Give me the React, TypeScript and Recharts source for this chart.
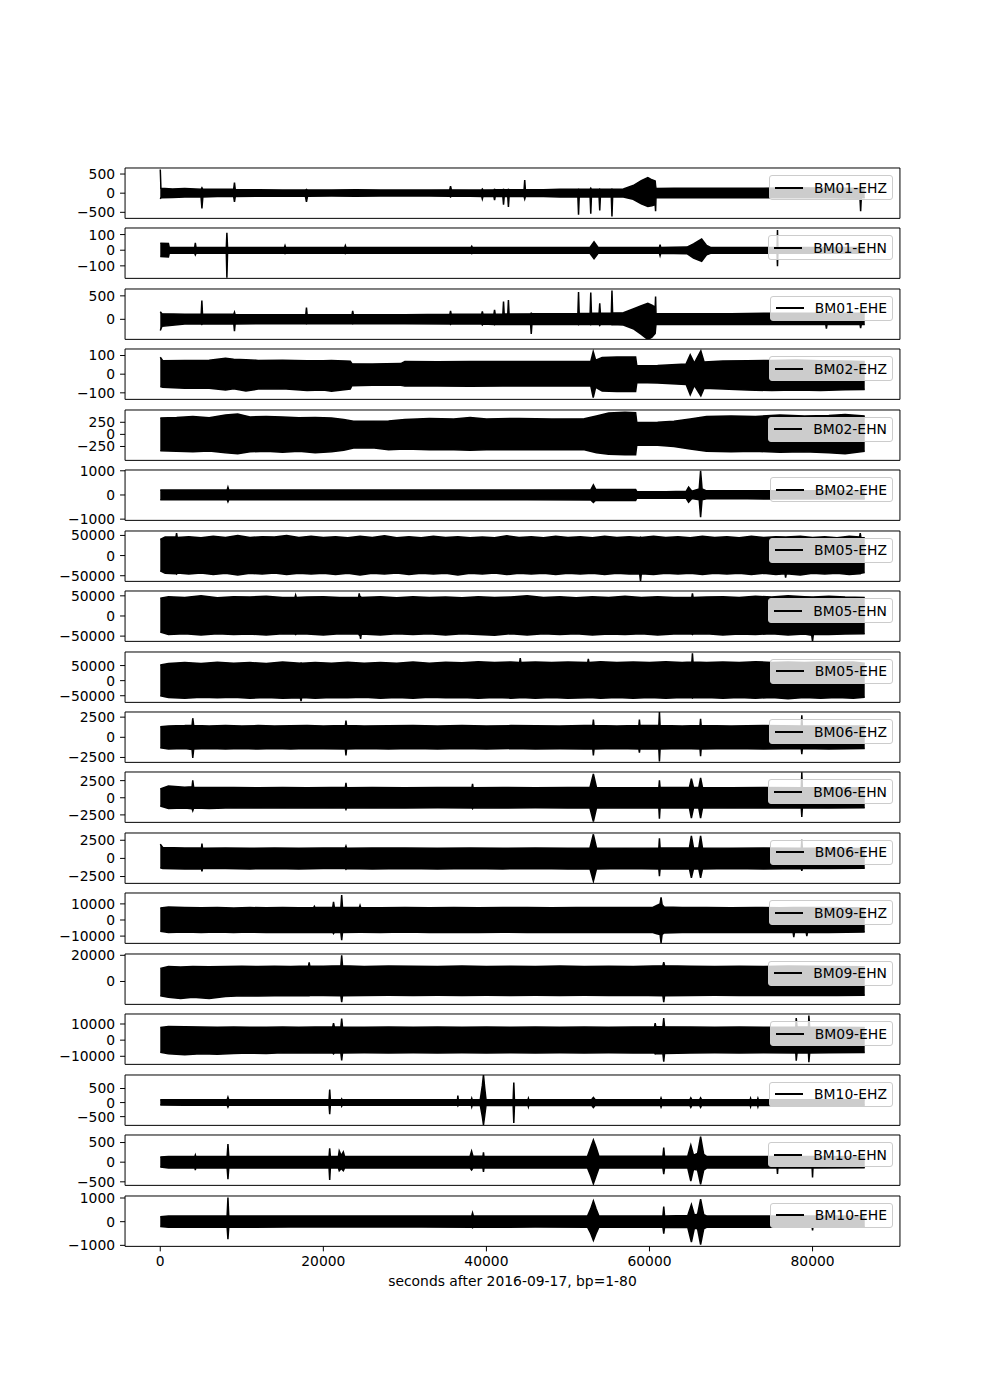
import { Area, ComposedChart, Legend, XAxis, YAxis } from "recharts";

const FONT = "DejaVu Sans";
const FS = 13.9;

// x axis: seconds after midnight, one day of data
const X_DOMAIN = [-4320, 90720];
const X_TICKS = [0, 20000, 40000, 60000, 80000];
const X_LABEL = "seconds after 2016-09-17, bp=1-80";

const CHANNELS = [
  "BM01-EHZ", "BM01-EHN", "BM01-EHE",
  "BM02-EHZ", "BM02-EHN", "BM02-EHE",
  "BM05-EHZ", "BM05-EHN", "BM05-EHE",
  "BM06-EHZ", "BM06-EHN", "BM06-EHE",
  "BM09-EHZ", "BM09-EHN", "BM09-EHE",
  "BM10-EHZ", "BM10-EHN", "BM10-EHE",
];

const Y_LIMITS = [
  [-658, 658], [-180, 142], [-427, 646],
  [-135, 135], [-537, 504], [-1050, 1033],
  [-64000, 61000], [-63000, 62000], [-72000, 95000],
  [-3110, 3140], [-3590, 3760], [-3440, 3500],
  [-14500, 16750], [-17500, 21000], [-15000, 16200],
  [-810, 980], [-590, 692], [-1043, 1085],
];

const Y_TICKS = [
  [-500, 0, 500], [-100, 0, 100], [0, 500],
  [-100, 0, 100], [-250, 0, 250], [-1000, 0, 1000],
  [-50000, 0, 50000], [-50000, 0, 50000], [-50000, 0, 50000],
  [-2500, 0, 2500], [-2500, 0, 2500], [-2500, 0, 2500],
  [-10000, 0, 10000], [0, 20000], [-10000, 0, 10000],
  [-500, 0, 500], [-500, 0, 500], [-1000, 0, 1000],
];

// envelopes: [time s, min, max]
const BM01_EHZ = [
  [0, -150, 620], [80, -120, 130], [1500, -110, 110], [3000, -100, 120], [5000, -100, 100],
  [5110, -400, 140], [5220, -100, 100], [7000, -90, 100], [9000, -90, 100], [9100, -230, 280],
  [9200, -90, 90], [12000, -80, 90], [15000, -80, 85], [17800, -80, 80], [17930, -230, 100],
  [18060, -80, 80], [21000, -75, 80], [24000, -80, 90], [27000, -75, 80], [30000, -75, 85],
  [33000, -75, 80], [35500, -80, 90], [35600, -100, 180], [35700, -80, 90], [38000, -80, 85],
  [39420, -85, 85], [39500, -150, 110], [39580, -85, 85], [40920, -90, 90], [41000, -180, 100],
  [41080, -90, 90], [42020, -90, 90], [42100, -300, 100], [42180, -90, 90], [42620, -90, 90],
  [42700, -360, 100], [42780, -90, 90], [44620, -90, 95], [44700, -150, 340], [44780, -90, 90],
  [47000, -90, 90], [49000, -100, 100], [51220, -100, 105], [51300, -560, 110], [51380, -100, 100],
  [52720, -100, 105], [52800, -540, 130], [52880, -100, 100], [53820, -100, 100], [53900, -450, 110],
  [53980, -100, 100], [55320, -100, 100], [55400, -610, 110], [55480, -100, 100], [56800, -100, 110],
  [58000, -160, 200], [59000, -280, 330], [59800, -350, 410], [60300, -330, 350], [60700, -300, 320],
  [60750, -470, 200], [60800, -110, 120], [63000, -120, 130], [66000, -120, 130], [70000, -120, 130],
  [74000, -120, 130], [78000, -120, 140], [82000, -120, 130], [85820, -130, 130], [85900, -470, 130],
  [85980, -120, 130], [86400, -120, 130],
];

const BM01_EHN = [
  [0, -40, 45], [1000, -43, 43], [1100, -20, 18], [4220, -20, 18], [4300, -30, 47],
  [4380, -20, 18], [8100, -20, 18], [8170, -176, 112], [8250, -20, 18], [15220, -20, 18],
  [15300, -22, 30], [15380, -20, 18], [22620, -20, 18], [22700, -22, 30], [22780, -20, 18],
  [38120, -20, 18], [38200, -22, 25], [38280, -20, 18], [52700, -20, 18], [53200, -54, 54],
  [53700, -20, 18], [61220, -20, 18], [61300, -35, 35], [61380, -20, 18], [64600, -22, 20],
  [65400, -50, 40], [66400, -71, 71], [67000, -30, 30], [67500, -20, 18], [75650, -20, 18],
  [75700, -103, 129], [75750, -20, 18], [86400, -20, 18],
];

const BM01_EHE = [
  [0, -240, 160], [200, -150, 120], [3000, -100, 110], [5020, -100, 110], [5100, -110, 400],
  [5180, -100, 110], [9020, -100, 110], [9100, -254, 150], [9180, -100, 100], [13000, -95, 100],
  [17850, -95, 100], [17930, -100, 250], [18010, -95, 100], [23520, -95, 100], [23600, -100, 180],
  [23680, -95, 100], [30000, -95, 100], [35520, -100, 110], [35600, -110, 180], [35680, -100, 110],
  [38000, -100, 110], [39420, -100, 110], [39500, -120, 170], [39580, -100, 110], [40920, -110, 110],
  [41000, -120, 200], [41080, -110, 110], [42020, -110, 115], [42100, -110, 377], [42180, -110, 115],
  [42620, -110, 115], [42700, -110, 413], [42780, -110, 115], [45420, -110, 120], [45500, -312, 130],
  [45580, -110, 120], [51220, -110, 125], [51300, -120, 580], [51380, -110, 125], [52720, -110, 130],
  [52800, -120, 573], [52880, -110, 130], [53820, -110, 130], [53900, -130, 340], [53980, -110, 130],
  [55320, -110, 130], [55400, -120, 616], [55480, -110, 135], [56800, -120, 140], [58000, -200, 220],
  [59000, -320, 290], [59800, -430, 340], [60300, -380, 300], [60700, -300, 260], [60750, -200, 486],
  [60800, -110, 120], [65000, -110, 120], [70000, -110, 120], [75000, -110, 130], [81620, -110, 130],
  [81700, -200, 130], [81780, -110, 130], [85820, -110, 130], [85900, -190, 130], [85980, -110, 130],
  [86400, -110, 130],
];

const BM02_EHZ = [
  [0, -66, 91], [300, -70, 72], [3000, -75, 73], [6000, -76, 75], [8000, -85, 85],
  [9000, -78, 80], [10500, -90, 78], [12000, -80, 74], [15000, -78, 75], [18000, -88, 72],
  [20000, -85, 72], [21000, -92, 74], [23300, -80, 70], [23500, -62, 56], [26000, -60, 55],
  [29500, -60, 57], [30000, -64, 68], [34000, -63, 67], [38000, -65, 68], [42000, -63, 68],
  [46000, -63, 68], [50000, -63, 68], [52800, -63, 68], [53100, -125, 121], [53400, -70, 75],
  [54200, -90, 90], [56000, -93, 92], [58300, -93, 92], [58450, -45, 45], [61000, -47, 46],
  [64500, -55, 55], [65000, -110, 104], [65500, -60, 60], [66300, -116, 125], [66700, -75, 65],
  [69000, -80, 70], [72000, -85, 72], [75000, -88, 74], [78000, -85, 76], [81000, -88, 72],
  [84000, -84, 70], [86400, -82, 68],
];

const BM02_EHN = [
  [0, -340, 340], [2000, -350, 350], [4000, -360, 370], [6000, -345, 345], [8000, -380, 400],
  [9500, -400, 420], [11000, -360, 360], [13000, -350, 370], [15000, -370, 360], [17000, -350, 345],
  [19000, -380, 350], [21000, -360, 340], [22500, -330, 310], [23700, -280, 270], [26000, -275, 270],
  [28000, -320, 275], [30000, -300, 310], [33000, -320, 330], [36000, -320, 320], [38000, -330, 350],
  [40000, -320, 320], [44000, -320, 330], [48000, -320, 320], [52000, -320, 325], [53500, -380, 380],
  [55000, -410, 440], [57000, -420, 455], [58300, -420, 450], [58450, -220, 245], [61000, -225, 250],
  [63000, -250, 270], [65000, -300, 320], [67000, -350, 370], [70000, -360, 380], [73000, -350, 370],
  [76000, -370, 400], [79000, -360, 380], [82000, -380, 390], [84000, -400, 410], [86400, -350, 380],
];

const BM02_EHE = [
  [0, -200, 210], [4000, -200, 210], [8200, -200, 210], [8300, -284, 324], [8400, -200, 210],
  [15000, -200, 210], [25000, -200, 210], [35000, -200, 210], [45000, -200, 210], [52800, -205, 215],
  [53120, -310, 420], [53400, -220, 230], [56000, -230, 230], [58300, -230, 230], [58450, -130, 135],
  [62000, -135, 135], [64500, -140, 150], [64800, -300, 324], [65200, -150, 160], [66100, -200, 250],
  [66270, -918, 1000], [66450, -200, 250], [67000, -160, 170], [72000, -160, 170], [78000, -170, 175],
  [86400, -170, 175],
];

const BM05_EHZ = [
  [0, -38000, 40000], [600, -44000, 46000], [1920, -45000, 46000], [2000, -46000, 56000],
  [2080, -43000, 45000], [3500, -46000, 47000], [5000, -43000, 44000], [6500, -47000, 48000],
  [8000, -44000, 45000], [9500, -48000, 50000], [11000, -44000, 45000], [12500, -46000, 47000],
  [14000, -43000, 46000], [15500, -47000, 50000], [17000, -44000, 45000], [18500, -46000, 48000],
  [20000, -44000, 45000], [21500, -47000, 47000], [23000, -44000, 44000], [24500, -48000, 48000],
  [26000, -44000, 45000], [27500, -46000, 49000], [29000, -43000, 44000], [30500, -47000, 47000],
  [32000, -44000, 44000], [33500, -46000, 48000], [35000, -44000, 45000], [36500, -48000, 47000],
  [38000, -44000, 44000], [39500, -46000, 46000], [41000, -43000, 44000], [42500, -47000, 49000],
  [44000, -44000, 45000], [45500, -46000, 47000], [47000, -44000, 44000], [48500, -47000, 48000],
  [50000, -44000, 45000], [51500, -46000, 47000], [53000, -44000, 44000], [54500, -47000, 48000],
  [56000, -44000, 45000], [57500, -46000, 47000], [58800, -45000, 45000], [58900, -64000, 46000],
  [59000, -45000, 45000], [60500, -47000, 48000], [62000, -44000, 45000], [63500, -46000, 47000],
  [65000, -44000, 44000], [66500, -47000, 48000], [68000, -44000, 45000], [69500, -46000, 47000],
  [71000, -44000, 44000], [72500, -47000, 48000], [74000, -44000, 45000], [75500, -47000, 47000],
  [76620, -45000, 46000], [76700, -55000, 45000], [76780, -45000, 46000], [78500, -48000, 48000],
  [80000, -44000, 45000], [81500, -46000, 47000], [83000, -44000, 44000], [84500, -47000, 48000],
  [85770, -45000, 46000], [85850, -45000, 56000], [85930, -44000, 45000], [86400, -42000, 44000],
];

const BM05_EHN = [
  [0, -40000, 44000], [1000, -46000, 48000], [3000, -44000, 46000], [5000, -47000, 50000],
  [7000, -44000, 45000], [9000, -46000, 48000], [11000, -45000, 47000], [13000, -47000, 49000],
  [15000, -44000, 46000], [16520, -45000, 46000], [16600, -46000, 52000], [16680, -45000, 46000],
  [18000, -45000, 47000], [20000, -47000, 48000], [22000, -44000, 46000], [24320, -45000, 46000],
  [24400, -47000, 56000], [24480, -46000, 47000], [24570, -57000, 48000], [24650, -45000, 46000],
  [27000, -47000, 48000], [29000, -44000, 45000], [31000, -46000, 48000], [33000, -44000, 46000],
  [35000, -47000, 47000], [37000, -44000, 45000], [39000, -46000, 48000], [41000, -48000, 46000],
  [43000, -44000, 47000], [45000, -47000, 50000], [47000, -44000, 46000], [49000, -46000, 48000],
  [51000, -44000, 45000], [53000, -47000, 48000], [55000, -45000, 46000], [57000, -46000, 49000],
  [59000, -44000, 46000], [61000, -47000, 48000], [63000, -45000, 46000], [65190, -45000, 46000],
  [65270, -46000, 56000], [65350, -45000, 46000], [67000, -44000, 47000], [69000, -47000, 48000],
  [71000, -45000, 46000], [73000, -46000, 49000], [75000, -44000, 47000], [77000, -47000, 50000],
  [79000, -45000, 48000], [79900, -48000, 47000], [80000, -63000, 47000], [80100, -46000, 47000],
  [82000, -46000, 49000], [84000, -45000, 47000], [86400, -44000, 46000],
];

const BM05_EHE = [
  [0, -50000, 52000], [1000, -56000, 57000], [3000, -58000, 60000], [5000, -55000, 57000],
  [7000, -57000, 61000], [9000, -55000, 58000], [11000, -58000, 60000], [13000, -56000, 57000],
  [15000, -58000, 62000], [17184, -57000, 58000], [17264, -68000, 59000], [17344, -56000, 58000],
  [19000, -58000, 60000], [21000, -56000, 58000], [23000, -57000, 61000], [25000, -55000, 58000],
  [27000, -58000, 60000], [29000, -56000, 58000], [31000, -58000, 62000], [33000, -55000, 58000],
  [35000, -57000, 61000], [37000, -56000, 59000], [39000, -58000, 63000], [41000, -56000, 60000],
  [43000, -58000, 62000], [44070, -57000, 60000], [44150, -57000, 74700], [44230, -56000, 60000],
  [46000, -58000, 62000], [48000, -56000, 60000], [50000, -58000, 62000], [52420, -57000, 60000],
  [52500, -57000, 72500], [52580, -56000, 60000], [54000, -58000, 63000], [56000, -56000, 60000],
  [58000, -58000, 62000], [60000, -56000, 60000], [62000, -58000, 63000], [64000, -56000, 60000],
  [65200, -57000, 62000], [65270, -58000, 91000], [65340, -57000, 62000], [67000, -56000, 60000],
  [69000, -58000, 62000], [71000, -56000, 60000], [73000, -58000, 63000], [75000, -56000, 60000],
  [77000, -60000, 62000], [79000, -56000, 60000], [81000, -58000, 62000], [83000, -56000, 61000],
  [85000, -58000, 62000], [86400, -55000, 58000],
];

const BM06_EHZ = [
  [0, -1300, 1300], [1000, -1450, 1400], [3000, -1400, 1450], [3900, -1500, 1500], [3984, -2546, 2370],
  [4100, -1450, 1450], [6000, -1400, 1400], [8000, -1450, 1450], [10000, -1400, 1400], [12000, -1450, 1450],
  [14000, -1400, 1400], [16000, -1450, 1420], [18000, -1400, 1450], [20000, -1420, 1400], [22700, -1450, 1450],
  [22775, -2240, 2060], [22850, -1450, 1450], [25000, -1400, 1400], [28000, -1450, 1420], [31000, -1400, 1450],
  [34000, -1450, 1400], [37000, -1400, 1450], [40000, -1450, 1400], [43000, -1400, 1450], [46000, -1450, 1420],
  [49000, -1420, 1400], [52000, -1450, 1450], [53050, -1450, 1450], [53120, -2240, 2200], [53200, -1450, 1450],
  [56000, -1400, 1400], [58700, -1450, 1450], [58764, -1890, 2200], [58830, -1450, 1450], [61150, -1450, 1450],
  [61221, -2985, 3160], [61300, -1450, 1450], [64000, -1400, 1400], [66200, -1450, 1450], [66267, -2330, 2280],
  [66340, -1450, 1450], [70000, -1400, 1400], [74000, -1450, 1450], [78620, -1400, 1400], [78684, -2100, 2720],
  [78750, -1400, 1400], [82000, -1450, 1400], [86400, -1400, 1400],
];

const BM06_EHN = [
  [0, -1200, 1300], [1000, -1550, 1700], [3000, -1500, 1550], [3900, -1600, 1600], [3984, -1900, 2550],
  [4100, -1500, 1500], [6000, -1550, 1500], [9000, -1450, 1500], [12000, -1500, 1450], [15000, -1450, 1500],
  [18000, -1500, 1450], [21000, -1450, 1500], [22700, -1500, 1500], [22775, -1700, 2190], [22850, -1500, 1450],
  [26000, -1450, 1500], [30000, -1500, 1450], [34000, -1450, 1500], [38230, -1500, 1500], [38300, -1600, 2040],
  [38370, -1450, 1450], [42000, -1500, 1500], [46000, -1450, 1450], [50000, -1500, 1500], [52700, -1500, 1500],
  [53120, -3470, 3470], [53500, -1500, 1500], [57000, -1450, 1450], [61150, -1500, 1500], [61221, -3060, 2550],
  [61300, -1500, 1500], [64900, -1500, 1500], [65140, -2960, 2800], [65400, -1500, 1500], [66050, -1500, 1500],
  [66270, -2960, 2900], [66500, -1500, 1500], [70000, -1450, 1450], [74000, -1500, 1500], [78620, -1450, 1450],
  [78684, -2800, 3720], [78750, -1450, 1450], [82000, -1500, 1450], [86400, -1450, 1450],
];

const BM06_EHE = [
  [0, -1300, 1960], [300, -1400, 1500], [3000, -1450, 1450], [5050, -1450, 1450], [5113, -1800, 2050],
  [5180, -1400, 1400], [8000, -1400, 1450], [11000, -1450, 1400], [14000, -1400, 1450], [17000, -1450, 1400],
  [20000, -1400, 1450], [22695, -1400, 1450], [22775, -1500, 1700], [22855, -1400, 1400], [26000, -1450, 1450],
  [30000, -1400, 1450], [34000, -1450, 1400], [38000, -1400, 1450], [42000, -1450, 1400], [46000, -1400, 1450],
  [50000, -1450, 1400], [52700, -1450, 1450], [53120, -3140, 3320], [53500, -1450, 1450], [57000, -1400, 1400],
  [61150, -1450, 1450], [61221, -2450, 2775], [61300, -1450, 1450], [64900, -1450, 1450], [65140, -2680, 3090],
  [65400, -1450, 1450], [66050, -1450, 1450], [66270, -2680, 3090], [66500, -1450, 1450], [70000, -1400, 1400],
  [74000, -1450, 1450], [78620, -1400, 1400], [78684, -1700, 2550], [78750, -1400, 1400], [82000, -1400, 1400],
  [86400, -1350, 1350],
];

const BM09_EHZ = [
  [0, -7000, 7500], [1000, -7800, 8000], [3000, -7500, 7800], [5000, -7800, 7600], [7000, -7500, 7800],
  [9000, -7700, 7500], [11000, -7500, 7700], [13000, -7800, 7600], [15000, -7600, 7800], [17000, -7800, 7600],
  [18820, -7700, 7700], [18900, -7700, 8500], [18980, -7700, 7700], [21150, -7700, 7800], [21250, -8500, 11300],
  [21350, -7700, 7800], [22150, -7800, 7800], [22250, -12570, 15550], [22350, -7800, 7800], [24420, -7600, 7700],
  [24500, -7600, 9000], [24580, -7600, 7700], [27000, -7700, 7600], [30000, -7500, 7800], [33000, -7800, 7600],
  [36000, -7600, 7800], [39000, -7800, 7600], [42000, -7600, 7700], [45000, -7800, 7800], [48000, -7600, 7600],
  [51000, -7800, 7800], [54000, -7600, 7700], [57000, -7800, 7800], [60400, -7800, 7800], [60900, -8500, 9000],
  [61300, -9000, 10000], [61420, -14270, 14060], [61550, -9000, 9500], [61800, -8000, 8000], [64000, -7800, 7700],
  [67000, -7600, 7800], [70000, -7800, 7600], [73000, -7700, 7800], [76000, -7800, 7600], [77620, -7800, 7800],
  [77700, -10650, 7800], [77780, -7800, 7800], [79220, -7800, 7700], [79300, -10000, 7700], [79380, -7800, 7700],
  [82000, -7700, 7800], [86400, -7500, 7500],
];

const BM09_EHN = [
  [0, -11000, 10000], [1000, -12000, 11500], [2500, -13000, 11000], [4000, -12000, 11500], [6000, -13000, 11300],
  [8000, -11500, 11500], [10000, -11000, 11700], [12000, -11200, 11400], [14000, -11000, 11600], [16000, -10800, 11500],
  [18180, -11000, 11800], [18260, -11000, 14600], [18340, -10800, 11800], [20000, -10800, 11600], [22150, -11000, 12000],
  [22250, -15900, 20000], [22350, -11000, 12000], [25000, -10800, 11500], [28000, -10600, 11800], [31000, -10800, 11600],
  [34000, -10600, 11500], [37000, -10800, 11800], [40000, -10600, 11500], [43000, -10800, 11700], [46000, -10600, 11500],
  [49000, -10800, 11800], [52000, -10600, 11500], [55000, -10800, 11700], [58000, -10600, 11500], [61650, -11000, 12000],
  [61750, -15900, 14850], [61850, -11000, 12000], [65000, -10800, 11600], [68000, -10600, 11500], [71000, -10800, 11700],
  [74000, -10700, 11500], [77000, -10800, 11800], [80000, -10800, 11600], [83000, -10800, 11500], [86400, -10500, 11200],
];

const BM09_EHE = [
  [0, -7500, 7800], [1000, -8500, 8500], [3000, -9000, 8300], [5000, -8500, 8200], [7000, -8700, 8000],
  [9000, -8200, 8200], [11000, -8000, 8000], [13000, -8200, 8000], [15000, -7800, 8100], [17000, -8000, 8000],
  [19000, -7800, 8200], [21150, -7900, 8200], [21250, -8500, 10600], [21350, -7900, 8200], [22150, -8000, 8200],
  [22250, -12500, 13300], [22350, -8000, 8200], [25000, -7800, 8000], [28000, -7900, 8100], [31000, -7800, 8000],
  [34000, -7900, 8100], [37000, -7800, 8000], [40000, -7900, 8200], [43000, -7800, 8000], [46000, -7900, 8100],
  [49000, -7800, 8000], [52000, -7900, 8100], [55000, -7800, 8000], [58000, -7900, 8100], [60620, -8000, 8200],
  [60700, -8500, 10600], [60780, -8200, 8300], [61650, -8500, 8500], [61750, -13300, 13700], [61850, -8200, 8300],
  [65000, -7900, 8100], [68000, -7800, 8000], [71000, -7900, 8200], [74000, -7800, 8000], [77950, -7900, 8100],
  [78000, -12700, 13700], [78100, -7900, 8100], [79500, -7900, 8100], [79550, -13700, 15200], [79650, -7900, 8100],
  [82000, -7800, 8000], [86400, -7700, 7800],
];

const BM10_EHZ = [
  [0, -90, 100], [3000, -95, 100], [8200, -95, 100], [8300, -160, 190], [8400, -95, 100],
  [14000, -95, 100], [20700, -95, 100], [20780, -410, 460], [20860, -95, 100], [22200, -95, 100],
  [22250, -130, 130], [22300, -95, 100], [30000, -95, 100], [36450, -95, 100], [36500, -120, 250],
  [36550, -95, 100], [38150, -95, 100], [38200, -150, 150], [38250, -95, 100], [39250, -100, 110],
  [39500, -500, 600], [39640, -790, 990], [39800, -450, 500], [39950, -100, 110], [43280, -100, 100],
  [43360, -725, 712], [43440, -100, 100], [45100, -95, 100], [45150, -150, 150], [45200, -95, 100],
  [52900, -100, 100], [53120, -180, 180], [53350, -100, 100], [61350, -100, 100], [61420, -160, 160],
  [61500, -100, 100], [64950, -100, 100], [65070, -170, 170], [65200, -100, 100], [66150, -100, 100],
  [66270, -170, 170], [66400, -100, 100], [72350, -100, 100], [72400, -150, 150], [72450, -100, 100],
  [73250, -100, 100], [73300, -150, 150], [73350, -100, 100], [80000, -100, 100], [86400, -95, 100],
];

const BM10_EHN = [
  [0, -120, 130], [1000, -145, 145], [4250, -145, 145], [4300, -200, 180], [4350, -145, 145],
  [8200, -145, 145], [8300, -435, 460], [8400, -145, 145], [14000, -145, 145], [20700, -145, 145],
  [20780, -452, 350], [20860, -145, 145], [21850, -150, 150], [21950, -217, 287], [22200, -160, 170],
  [22450, -217, 260], [22600, -150, 150], [30000, -145, 145], [38000, -150, 150], [38180, -200, 280],
  [38350, -150, 150], [39580, -150, 150], [39640, -250, 250], [39700, -150, 150], [46000, -145, 145],
  [52400, -150, 150], [52800, -350, 380], [53120, -548, 565], [53450, -350, 380], [53800, -150, 150],
  [61650, -150, 150], [61750, -305, 374], [61850, -150, 150], [64700, -150, 160], [65070, -480, 435],
  [65400, -180, 180], [65900, -200, 220], [66270, -565, 652], [66650, -200, 200], [67000, -150, 150],
  [75650, -145, 145], [75700, -300, 145], [75750, -145, 145], [79950, -145, 145], [80000, -390, 145],
  [80050, -145, 145], [86400, -140, 140],
];

const BM10_EHE = [
  [0, -200, 210], [1000, -235, 240], [8200, -235, 240], [8300, -738, 1022], [8400, -235, 240],
  [16000, -230, 235], [24000, -230, 235], [32000, -230, 235], [38200, -235, 240], [38300, -260, 370],
  [38400, -235, 240], [46000, -230, 235], [52400, -235, 240], [52800, -500, 550], [53120, -795, 880],
  [53450, -500, 550], [53800, -235, 240], [61650, -240, 245], [61750, -511, 640], [61850, -240, 245],
  [64700, -250, 260], [65140, -866, 725], [65500, -280, 280], [65900, -300, 320], [66270, -966, 950],
  [66650, -300, 300], [67000, -240, 240], [72000, -235, 240], [79950, -235, 240], [80000, -370, 240],
  [80050, -235, 240], [86400, -230, 235],
];

const TRACES = [
  BM01_EHZ, BM01_EHN, BM01_EHE,
  BM02_EHZ, BM02_EHN, BM02_EHE,
  BM05_EHZ, BM05_EHN, BM05_EHE,
  BM06_EHZ, BM06_EHN, BM06_EHE,
  BM09_EHZ, BM09_EHN, BM09_EHE,
  BM10_EHZ, BM10_EHN, BM10_EHE,
];

// matplotlib subplot grid: top 0.88, bottom 0.11, hspace 0.2
const PLOT_TOP = 168;
const PLOT_H = 50.37;
const PITCH = 60.446;
const TOP_PAD = 10;

const tickStyle = { fill: "#000", fontSize: FS, fontFamily: FONT };
const fmtY = (v: number) => String(v).replace("-", "\u2212");

function TraceLegend({ label }: { label: string }) {
  return (
    <div
      style={{
        display: "flex",
        alignItems: "center",
        boxSizing: "border-box",
        height: 25,
        padding: "0 5px 0 5px",
        border: "1px solid #cccccc",
        borderRadius: 3,
        background: "rgba(255,255,255,0.8)",
        fontFamily: FONT,
        fontSize: FS,
        color: "#000",
        whiteSpace: "nowrap",
      }}
    >
      <span style={{ display: "inline-block", width: 28, height: 2, background: "#000", marginRight: 11 }} />
      <span>{label}</span>
    </div>
  );
}

function Panel({ i }: { i: number }) {
  const isLast = i === CHANNELS.length - 1;
  const rows = TRACES[i].map(([t, lo, hi]) => ({ t, v: [lo, hi] }));
  const axisH = isLast ? 40 : 12;
  const extra = isLast ? 10 : 0;
  const height = TOP_PAD + PLOT_H + axisH + extra;
  return (
    <div style={{ position: "absolute", left: 0, top: PLOT_TOP + i * PITCH - TOP_PAD }}>
      <ComposedChart
        width={1000}
        height={height}
        data={rows}
        margin={{ top: TOP_PAD - 1, right: 99, bottom: extra, left: 0 }}
      >
        <XAxis
          dataKey="t"
          type="number"
          domain={X_DOMAIN}
          ticks={X_TICKS}
          interval={0}
          allowDataOverflow
          height={axisH}
          stroke="#000"
          tickSize={5}
          tickMargin={5}
          tick={isLast ? tickStyle : false}
          label={
            isLast
              ? { value: X_LABEL, position: "insideBottom", offset: 0, fill: "#000", fontSize: FS, fontFamily: FONT }
              : undefined
          }
        />
        <XAxis
          xAxisId="top"
          orientation="top"
          type="number"
          domain={X_DOMAIN}
          allowDataOverflow
          height={1}
          tick={false}
          tickLine={false}
          stroke="#000"
        />
        <YAxis
          type="number"
          domain={Y_LIMITS[i]}
          ticks={Y_TICKS[i]}
          interval={0}
          allowDataOverflow
          width={125}
          stroke="#000"
          tickSize={5}
          tickMargin={5}
          tick={tickStyle}
          tickFormatter={fmtY}
        />
        <YAxis
          yAxisId="right"
          orientation="right"
          type="number"
          domain={Y_LIMITS[i]}
          allowDataOverflow
          width={1}
          tick={false}
          tickLine={false}
          stroke="#000"
        />
        <Area
          type="linear"
          dataKey="v"
          name={CHANNELS[i]}
          stroke="#000"
          strokeWidth={1.5}
          fill="#000"
          fillOpacity={1}
          dot={false}
          activeDot={false}
          isAnimationActive={false}
        />
        <Legend
          layout="horizontal"
          align="center"
          verticalAlign="middle"
          wrapperStyle={{ top: 17, right: 107, left: "auto", bottom: "auto", width: "auto", height: "auto" }}
          content={() => <TraceLegend label={CHANNELS[i]} />}
        />
      </ComposedChart>
    </div>
  );
}

export default function App() {
  return (
    <div style={{ position: "absolute", left: 0, top: 0, width: 1000, height: 1400, background: "#fff" }}>
      {CHANNELS.map((_, i) => (
        <Panel key={CHANNELS[i]} i={i} />
      ))}
    </div>
  );
}
